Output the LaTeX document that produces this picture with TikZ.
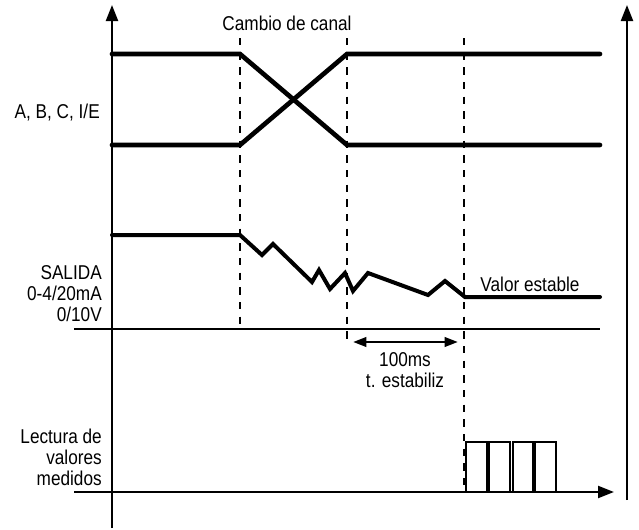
\documentclass[tikz,border=0pt]{standalone}
\usepackage{fontspec}
\setmainfont{Liberation Sans}[FakeStretch=0.86]
\usetikzlibrary{arrows.meta}

\begin{document}
\begin{tikzpicture}[
	x = 0.75pt, y = -0.75pt, % one unit = one pixel of the sketch
	> = {Triangle[length=12pt, width=9pt]}, % axis arrow heads
	axis/.style={line width=1.6pt},
	signal/.style={line width=3.5pt, line cap=round},
	outlevel/.style={line width=3pt, line cap=round},
	cut/.style={line width=0.8pt, dash pattern=on 5.5pt off 5.5pt},
	lbl/.style={font=\fontsize{15}{15.75}\selectfont, inner sep=0pt, align=right},
	txt/.style={font=\fontsize{15}{15.75}\selectfont, inner sep=0pt, align=center},
	pulse/.style={draw, line width=1.2pt},
	]
	\useasboundingbox (0,0) rectangle (639,529);

	% Axes
	\coordinate (L0) at (112,528);
	\coordinate (L1) at (112,5);
	\coordinate (R0) at (627,500);
	\coordinate (R1) at (627,5);
	\coordinate (H0) at (74,329);
	\coordinate (H1) at (600,329);
	\coordinate (B0) at (74,492);
	\coordinate (B1) at (614,492);
	\draw[axis, ->] (L0) -- (L1);
	\draw[axis, ->] (R0) -- (R1);
	\draw[axis] (H0) -- (H1);
	\draw[axis, ->] (B0) -- (B1);

	% Channel change instants
	\coordinate (t1) at (240,38);
	\coordinate (t2) at (347,38);
	\coordinate (t3) at (464,38);
	\draw[cut] (t1) -- (240,328);
	\draw[cut] (t2) -- (347,345);
	\draw[cut] (t3) -- (464,492);

	% Address lines A, B, C, I/E
	\draw[signal] (112,54) -- (240,54) -- (347,145) -- (600,145);
	\draw[signal] (112,145) -- (240,145) -- (347,54) -- (600,54);

	% Output settling
	\draw[outlevel] (112,235) -- (240,235) -- (262,255) -- (273,244) -- (312,282)
		-- (319,270) -- (330,289) -- (345,273) -- (353,291) -- (368,273)
		-- (428,295) -- (445,281) -- (465,297) -- (600,297);

	% Settling time
	\coordinate (s0) at (353,342);
	\coordinate (s1) at (458,342);
	\draw[line width=2pt, {Triangle[length=10pt, width=7pt]}-{Triangle[length=10pt, width=7pt]}] (s0) -- (s1);

	% Measured value readings
	\foreach \xa/\xb in {466/487, 489/510, 513/533, 535/556}
		\draw[pulse] (\xa,492) -- (\xa,442) -- (\xb,442) -- (\xb,492);

	% Labels
	\node[txt, anchor=base] (cambio) at (287,30) {Cambio de canal};
	\node[lbl, anchor=base east] (abc) at (100,118) {A, B, C, I/E};
	\node[lbl, anchor=north east] (salida) at (102,265) {SALIDA\\0-4/20mA\\0/10V};
	\node[txt, anchor=base] (estable) at (530,291) {Valor estable};
	\node[txt, anchor=north] (tiempo) at (405,352) {100ms\\t. estabiliz};
	\node[lbl, anchor=north east] (lectura) at (102,429) {Lectura de\\valores\\medidos};

\end{tikzpicture}
\end{document}
